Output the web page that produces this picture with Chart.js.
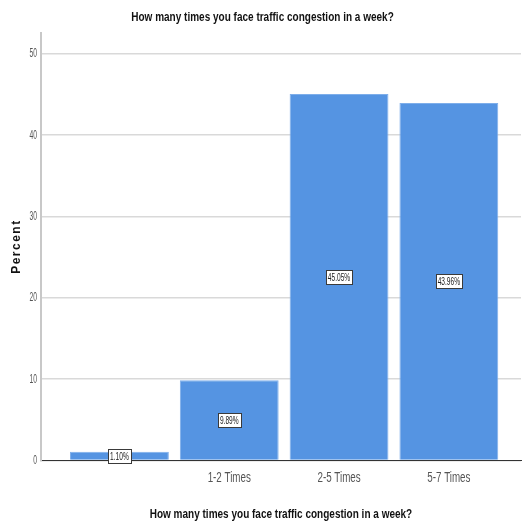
<!DOCTYPE html>
<html>
<head>
<meta charset="utf-8">
<script src="https://cdn.jsdelivr.net/npm/chart.js@4/dist/chart.umd.min.js"></script>
<style>
  html, body { margin: 0; padding: 0; background: #ffffff; }
  #wrap { width: 523px; height: 522px; }
</style>
</head>
<body>
<div id="wrap"><canvas id="c" width="523" height="522"></canvas></div>
<script>
// Frequency of traffic congestion per week (percent of respondents)
const categories = ["", "1-2 Times", "2-5 Times", "5-7 Times"];
const percents = [1.10, 9.89, 45.05, 43.96];
const yTicks = [0, 10, 20, 30, 40, 50];

const titleText = "How many times you face traffic congestion in a week?";

// Font stacks. "CondNN" is a marker family (never installed) that tells the
// text hook below to draw the glyphs horizontally condensed to NN percent.
const fam = (k) => "Cond" + k + ", 'Liberation Sans', Arial, sans-serif";
const FONT_TITLE = fam(77);
const FONT_XTICK = fam(70);
const FONT_YTICK = fam(52);
const FONT_BOX = fam(60);
const FONT_SPACED = "Spaced, 'Liberation Sans', Arial, sans-serif";
const SPACING = 1.5;

const canvas = document.getElementById('c');
const ctx2d = canvas.getContext('2d');
const origFill = ctx2d.fillText.bind(ctx2d);
const origMeasure = ctx2d.measureText.bind(ctx2d);
function condenseOf(font) {
  const m = /Cond(\d+)/.exec(font);
  return m ? parseInt(m[1], 10) / 100 : 1;
}
ctx2d.fillText = function (text, x, y, maxWidth) {
  const k = condenseOf(this.font);
  const spaced = this.font.indexOf('Spaced') >= 0;
  if (k === 1 && !spaced) return origFill(text, x, y, maxWidth);
  this.save();
  if (spaced) this.letterSpacing = SPACING + 'px';
  this.translate(x, y);
  this.scale(k, 1);
  origFill(text, 0, 0, maxWidth !== undefined ? maxWidth / k : undefined);
  this.restore();
};
ctx2d.measureText = function (text) {
  const k = condenseOf(this.font);
  const m = origMeasure(text);
  if (this.font.indexOf('Spaced') >= 0) {
    return { width: m.width + SPACING * String(text).length,
      actualBoundingBoxAscent: m.actualBoundingBoxAscent,
      actualBoundingBoxDescent: m.actualBoundingBoxDescent };
  }
  if (k === 1) return m;
  return { width: m.width * k,
    actualBoundingBoxAscent: m.actualBoundingBoxAscent,
    actualBoundingBoxDescent: m.actualBoundingBoxDescent,
    actualBoundingBoxLeft: m.actualBoundingBoxLeft * k,
    actualBoundingBoxRight: m.actualBoundingBoxRight * k };
};

// Boxed percentage label drawn in the middle of each bar
const boxLabels = {
  id: 'boxLabels',
  afterDatasetsDraw(chart) {
    const ctx = chart.ctx;
    const meta = chart.getDatasetMeta(0);
    ctx.save();
    ctx.font = "11px " + FONT_BOX;
    ctx.textAlign = 'center';
    ctx.textBaseline = 'middle';
    meta.data.forEach((bar, i) => {
      const text = percents[i].toFixed(2) + '%';
      const cx = bar.x;
      const cy = (bar.y + bar.base) / 2;
      const w = Math.round(ctx.measureText(text).width + 4);
      const h = 14;
      const left = Math.round(cx - w / 2) + 0.5;
      const top = Math.round(cy - h / 2) + 0.5;
      ctx.fillStyle = '#ffffff';
      ctx.fillRect(left, top, w, h);
      ctx.strokeStyle = '#3a3a3a';
      ctx.lineWidth = 1;
      ctx.strokeRect(left, top, w, h);
      ctx.fillStyle = '#222222';
      ctx.fillText(text, cx, cy + 1);
    });
    ctx.restore();
  }
};

new Chart(canvas, {
  type: 'bar',
  data: {
    datasets: [{
      data: percents.map((v, i) => ({ x: i, y: v })),
      backgroundColor: '#5594e2',
      borderColor: '#7eaeea',
      borderWidth: 1,
      barPercentage: 0.9,
      categoryPercentage: 1.0
    }]
  },
  options: {
    responsive: false,
    animation: false,
    layout: { padding: { left: 4, right: 2, top: 0, bottom: 0 } },
    plugins: {
      legend: { display: false },
      tooltip: { enabled: false },
      title: {
        display: true,
        text: titleText,
        color: '#111111',
        font: { family: FONT_TITLE, size: 13, weight: 'bold' },
        padding: { top: 10, bottom: 7 }
      }
    },
    scales: {
      x: {
        type: 'linear',
        offset: false,
        min: -0.715,
        max: 3.657,
        afterBuildTicks(axis) {
          axis.ticks = categories.map((c, i) => ({ value: i }));
        },
        ticks: {
          callback: (v) => categories[v] ?? '',
          color: '#555555',
          font: { family: FONT_XTICK, size: 14 },
          padding: 9,
          maxRotation: 0,
          autoSkip: false
        },
        grid: { display: false, drawTicks: false },
        border: { display: true, color: '#333333', width: 1 },
        title: {
          display: true,
          text: titleText,
          color: '#111111',
          font: { family: FONT_TITLE, size: 13, weight: 'bold' },
          padding: { top: 11, bottom: 0 }
        }
      },
      y: {
        min: 0,
        max: 52.6,
        afterBuildTicks(axis) {
          axis.ticks = yTicks.map(v => ({ value: v }));
        },
        ticks: {
          color: '#555555',
          font: { family: FONT_YTICK, size: 13 },
          padding: 4
        },
        grid: { color: '#d9d9d9', lineWidth: 1.5, drawTicks: false },
        border: { display: true, color: '#c8c8c8', width: 2 },
        title: {
          display: true,
          text: 'Percent',
          color: '#111111',
          font: { family: FONT_SPACED, size: 12, weight: 'bold' },
          padding: { top: 5, bottom: 2 }
        }
      }
    }
  },
  plugins: [boxLabels]
});
</script>
</body>
</html>
